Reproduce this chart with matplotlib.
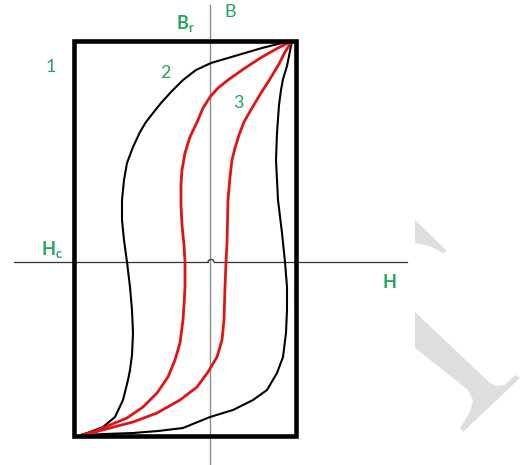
import matplotlib
matplotlib.use("Agg")
import matplotlib.pyplot as plt
from matplotlib.patches import Rectangle, Arc, Polygon

plt.rcParams['font.family'] = ['Lato', 'DejaVu Sans']
plt.rcParams['mathtext.fontset'] = 'custom'
plt.rcParams['mathtext.rm'] = 'Lato'
plt.rcParams['mathtext.bf'] = 'Lato:bold'

# ---- data (H, B in drawing units, origin at axis crossing) ----
# outer black loop (2): descending branch (left), ascending branch (right)
loop2_down_H = [82, 68, 52, 35, 18, 1, -14, -27, -39, -49, -57, -64, -70, -77, -83, -86,
                -88, -88, -86, -83, -80, -78, -77, -78, -80, -82, -87, -95, -107, -120, -129]
loop2_down_B = [221, 218, 214, 209, 204, 199, 192, 182, 170, 159, 149, 140, 130, 115, 99,
                82, 62, 42, 22, 0, -25, -48, -71, -93, -108, -118, -138, -155, -165, -170, -173]
loop2_up_H = [-129, -105, -77, -52, -27, 0, 23, 43, 57, 67, 73, 76, 77, 77, 75, 72, 68,
              66, 67, 69, 71, 73, 77, 80, 82]
loop2_up_B = [-173, -172, -171, -169, -166, -155, -148, -138, -128, -111, -95, -71, -48,
              -25, 0, 29, 62, 102, 129, 157, 172, 183, 196, 211, 221]

# inner red loop (3)
loop3_down_H = [82, 68, 52, 35, 18, 8, 0, -7, -12, -20, -25, -28, -29, -29, -28, -26, -25,
                -25, -26, -27, -30, -35, -42, -53, -67, -83, -100, -117, -128]
loop3_down_B = [221, 214, 205, 194, 182, 174, 165, 154, 142, 125, 109, 92, 77, 57, 37, 17,
                0, -25, -43, -58, -81, -98, -115, -131, -145, -156, -163, -170, -173]
loop3_up_H = [-126, -100, -77, -53, -30, -13, -2, 7, 12, 14, 15, 16, 17, 18, 20, 22,
              25, 29, 34, 42, 51, 60, 69, 75, 82]
loop3_up_B = [-173, -166, -160, -151, -138, -125, -110, -95, -78, -58, -25, 0, 19, 62,
              85, 102, 114, 127, 140, 154, 169, 183, 198, 210, 221]

# rectangular loop (1)
rect_H = (-136, 86)
rect_B = (-174, 221)

# axes extents
h_axis = (-196, 197)
b_axis = (-203, 257)

# labels: (text, H, B, bold)
labels = [("B", 20, 250, False), (r"$\mathbf{B_r}$", -25, 238, True),
          ("1", -159, 195, False), ("2", -45, 189, False), ("3", 28, 159, False),
          (r"$\mathbf{H_c}$", -158, 12, True), ("H", 179, -20, True)]

# watermark shapes
wm1_H = [205, 237, 233, 220, 205]
wm1_B = [42, 11, 9, 16, 19]
wm2_H = [205, 280, 287, 295, 305, 310, 253, 250, 260, 263, 258, 205]
wm2_B = [-50, -121, -124, -123, -113, -116, -170, -166, -150, -138, -128, -86]

green = '#22a55b'
red = '#e01414'

fig = plt.figure(figsize=(5.24, 4.65), dpi=100)
ax = fig.add_axes([0, 0, 1, 1])
ax.set_xlim(-210, 314)
ax.set_ylim(-203, 262)
ax.axis('off')

# watermark
ax.add_patch(Polygon(list(zip(wm1_H, wm1_B)), closed=True, color='#dedede', lw=0, zorder=0))
ax.add_patch(Polygon(list(zip(wm2_H, wm2_B)), closed=True, color='#dedede', lw=0, zorder=0))

# axes
ax.plot([0, 0], b_axis, color='#8a8a8a', lw=1.0, zorder=1)
ax.plot([h_axis[0], -2], [0, 0], color='#333333', lw=0.9, zorder=1)
ax.plot([4, h_axis[1]], [0, 0], color='#333333', lw=0.9, zorder=1)
ax.add_patch(Arc((1, 0), 6, 5, theta1=0, theta2=180, color='#333333', lw=0.9, zorder=1))

# rectangle loop
ax.add_patch(Rectangle((rect_H[0], rect_B[0]), rect_H[1] - rect_H[0], rect_B[1] - rect_B[0],
                       fill=False, ec='black', lw=3.3, joinstyle='miter', zorder=3))

# curves
for hh, bb, col, lw in [(loop2_down_H, loop2_down_B, 'black', 1.5),
                        (loop2_up_H, loop2_up_B, 'black', 1.5),
                        (loop3_down_H, loop3_down_B, red, 2.0),
                        (loop3_up_H, loop3_up_B, red, 2.0)]:
    ax.plot(hh, bb, color=col, lw=lw, zorder=2,
            solid_capstyle='round', solid_joinstyle='round')

for txt, h, b, bold in labels:
    ax.text(h, b, txt, color=green, fontsize=13, ha='center', va='center',
            fontweight='bold' if bold else 'normal')

fig.savefig('out.png', dpi=100)
